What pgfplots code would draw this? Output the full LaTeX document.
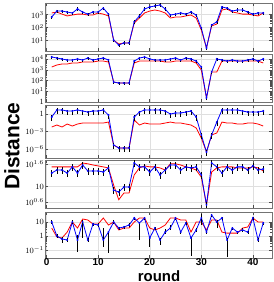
\documentclass[border=0pt]{standalone}
\usepackage{pgfplots}
\pgfplotsset{compat=1.18}
\usepackage{pgfplotstable}
\usepackage{fontspec}
\setmainfont{Liberation Sans}

\pgfplotstableread{
x b r
1 660 1350
2 1900 1600
3 1900 1100
4 1600 800
5 1350 940
6 2750 1100
7 1600 1100
8 1100 940
9 1600 940
10 1600 1350
11 3200 1100
12 1100 800
13 11 11
14 4.6 5.5
15 6.6 6.6
16 6.6 6.6
17 280 230
18 800 550
19 2750 1350
20 3900 1900
21 4700 2300
22 5600 1900
23 2750 1350
24 940 550
25 1100 660
26 1350 660
27 1100 800
28 1600 940
29 940 550
30 93 66
31 2.7 2.7
32 160 135
33 280 190
34 3900 2300
35 3200 2750
36 1900 1600
37 2300 1350
38 2300 1100
39 1600 1100
40 1100 940
41 1350 800
42 1350 1350
}\tA

\pgfplotstableread{
x b r
1 16600 1900
2 13300 2950
3 10800 3650
4 8700 3650
5 8700 4550
6 10800 4550
7 8700 5600
8 13300 5600
9 8700 5600
10 10800 6900
11 13300 6900
12 8700 5600
13 75 75
14 60 60
15 60 60
16 60 60
17 6900 4550
18 13300 6900
19 16600 6900
20 10800 6900
21 8700 6900
22 8700 6900
23 8700 5600
24 10800 5600
25 13300 6900
26 8700 6900
27 13300 6900
28 10800 6900
29 6900 4550
30 1900 1000
31 2.4 2.4
32 650 650
33 10800 650
34 8700 6900
35 6900 6900
36 8700 6900
37 6900 6900
38 6900 6900
39 8700 6900
40 10800 6900
41 6900 6900
42 10800 4550
}\tB

\pgfplotstableread{
x b r
1 0.29 0.0058
2 4.5 0.0126
3 4.5 0.0058
4 3.0 0.0186
5 3.0 0.0085
6 4.5 0.0186
7 3.0 0.0275
8 2.0 0.0275
9 3.0 0.0275
10 3.0 0.0275
11 4.5 0.0275
12 0.63 0.04
13 5.1e-6 5.1e-6
14 1.6e-6 1.6e-6
15 1.6e-6 1.6e-6
16 1.6e-6 1.6e-6
17 0.29 0.089
18 2.0 0.0126
19 4.5 0.0275
20 4.5 0.0186
21 4.5 0.0186
22 4.5 0.0186
23 3.0 0.0275
24 0.93 0.04
25 1.4 0.0275
26 1.4 0.0275
27 2.0 0.0186
28 3.0 0.0126
29 0.29 0.004
30 2.6e-4 7.9e-5
31 3.3e-7 3.3e-7
32 2.6e-4 2.6e-4
33 0.04 5.6e-4
34 4.5 0.04
35 4.5 0.0275
36 4.5 0.0275
37 4.5 0.0186
38 3.0 0.0186
39 2.0 0.0275
40 2.0 0.0275
41 2.0 0.0186
42 3.0 0.0085
}\tC

\pgfplotstableread{
x b r
1 22.7 33
2 27.3 33
3 27.3 33
4 22.7 33
5 33 33
6 22.7 33
7 37 41.7
8 25.8 39.8
9 25.8 37
10 25.8 35
11 24.2 33
12 31 31
13 8.1 11
14 7.2 4.5
15 9.7 6.8
16 9.7 6.8
17 41.7 20.3
18 33 31
19 33 35
20 24.2 33
21 33 33
22 20.3 31
23 27.3 27.3
24 37 39.8
25 37 39.8
26 27.3 37
27 33 33
28 31 31
29 33 27.3
30 20.3 17.7
31 3.3 3.3
32 41.7 24.2
33 33 31
34 22.7 33
35 33 33
36 27.3 33
37 33 31
38 33 31
39 27.3 31
40 35 33
41 27.3 31
42 29 25.8
}\tD

\pgfplotstableread{
x b ep em r
1 10 3 3 3.7
2 1 0.3 0.3 0.85
3 0.61 0.2 0.29 0.72
4 0.52 0.15 0.15 1.9
5 10 3 3 10
6 0.52 0.66 0.45 3.7
7 10 3 9.28 16.4
8 0.52 0.15 0.15 13.9
9 7.2 2 2 7.2
10 6.1 2 2 7.2
11 0.52 3.2 0.36 19.3
12 1.9 0.5 1.84 6.1
13 10 3 3 10
14 3.7 1 1 2.7
15 4.4 1 1 3.7
16 6.1 2 2 3.7
17 19.3 5 5 10
18 8.5 2 8.0 19.3
19 19.3 5 5 19.3
20 0.72 0.2 0.56 3.7
21 3.7 1 1 2.7
22 0.52 0.15 0.29 3.7
23 1.9 1.5 0.5 6.1
24 3.7 2 1 19.3
25 19.3 5 5 19.3
26 1.9 0.5 0.5 13.9
27 8.5 2 2 13.9
28 0.72 0.2 0.68 1.9
29 2.7 0.8 0.8 10
30 19.3 18 13 10
31 1.9 0.5 0.5 2.7
32 31.6 8 8 13.9
33 10 3 6.3 13.9
34 19.3 5 5 1.9
35 0.52 0.15 0.49 1.6
36 3.7 1 1 1.6
37 1.9 0.5 0.5 1.6
38 2.7 0.8 0.8 3.7
39 1.9 0.5 0.5 4.4
40 19.3 5 5 19.3
41 0.52 0.15 0.15 10
42 8.5 2 2 10
}\tE

\pgfplotsset{
  every axis/.append style={
    ymode=log,
    width=227bp, scale only axis,
    xmin=-0.3, xmax=43.7,
    xtick={0,10,20,30,40},
    grid=major, grid style={gray!25, line width=0.4pt},
    axis line style={black!55, line width=0.8pt},
    tick style={black!70, line width=0.5pt},
    minor tick length=2bp, major tick length=3bp,
    anchor=south west,
    yticklabel style={font=\fontsize{8}{8}\selectfont, inner sep=1pt},
  },
  /pgf/number format/assume math mode=true,
}

\begin{document}
\begin{tikzpicture}
\useasboundingbox (0bp,0bp) rectangle (274bp,282bp);

% Panel 1
\begin{axis}[at={(45bp,231bp)}, height=48bp, ymin=1.585, ymax=7943,
  ytick={10,100,1000}, xticklabels={}]
\addplot[red, line width=0.8pt, no markers] table[x=x,y=r] {\tA};
\addplot[blue, line width=0.8pt, mark=*, mark size=0.5pt,
  error bars/.cd, y dir=both, y fixed relative=0.3,
  error bar style={black, line width=0.5pt}, error mark=none] table[x=x,y=b] {\tA};
\end{axis}

% Panel 2
\begin{axis}[at={(45bp,180bp)}, height=48bp, ymin=1, ymax=31623,
  ytick={1,10,100,1000,10000}, yticklabels={$1$,$10^{1}$,$10^{2}$,$10^{3}$,$10^{4}$}, xticklabels={}]
\addplot[red, line width=0.8pt, no markers] table[x=x,y=r] {\tB};
\addplot[blue, line width=0.8pt, mark=*, mark size=0.5pt,
  error bars/.cd, y dir=both, y fixed relative=0.3,
  error bar style={black, line width=0.5pt}, error mark=none] table[x=x,y=b] {\tB};
\end{axis}

% Panel 3
\begin{axis}[at={(45bp,124bp)}, height=53bp, ymin=3.16e-8, ymax=31.6,
  ytick={1e-6,1e-3,1}, yticklabels={$10^{-6}$,$10^{-3}$,$1$}, xticklabels={}]
\addplot[red, line width=0.8pt, no markers] table[x=x,y=r] {\tC};
\addplot[blue, line width=0.8pt, mark=*, mark size=0.5pt,
  error bars/.cd, y dir=both, y fixed relative=0.8,
  error bar style={black, line width=0.5pt}, error mark=none] table[x=x,y=b] {\tC};
\end{axis}

% Panel 4
\begin{axis}[at={(45bp,74bp)}, height=48bp, ymin=2.73, ymax=50.1,
  ytick={3.981,10,39.81}, yticklabels={$10^{0.6}$,$10$,$10^{1.6}$}, xticklabels={}]
\addplot[red, line width=0.8pt, no markers] table[x=x,y=r] {\tD};
\addplot[blue, line width=0.8pt, mark=*, mark size=0.5pt,
  error bars/.cd, y dir=both, y fixed relative=0.2,
  error bar style={black, line width=0.5pt}, error mark=none] table[x=x,y=b] {\tD};
\end{axis}

% Panel 5
\begin{axis}[at={(45bp,24bp)}, height=46bp, ymin=0.0268, ymax=51.8,
  ytick={0.1,1,10}, yticklabels={$10^{-1}$,$1$,$10$},
  xticklabels={0,10,20,30,40},
  xticklabel style={font=\bfseries\fontsize{10}{10}\selectfont, inner sep=0.5pt}]
\addplot[red, line width=0.8pt, no markers] table[x=x,y=r] {\tE};
\addplot[blue, line width=0.8pt, mark=*, mark size=0.5pt,
  error bars/.cd, y dir=both, y explicit,
  error bar style={black, line width=0.5pt}, error mark=none]
  table[x=x,y=b,y error plus=ep,y error minus=em] {\tE};
\end{axis}

\node[rotate=90, font=\bfseries\fontsize{21}{21}\selectfont] at (12bp,136bp) {Distance};
\node[font=\bfseries\fontsize{15}{15}\selectfont, inner sep=0pt, anchor=base] at (159bp,1bp) {round};
\end{tikzpicture}
\end{document}
